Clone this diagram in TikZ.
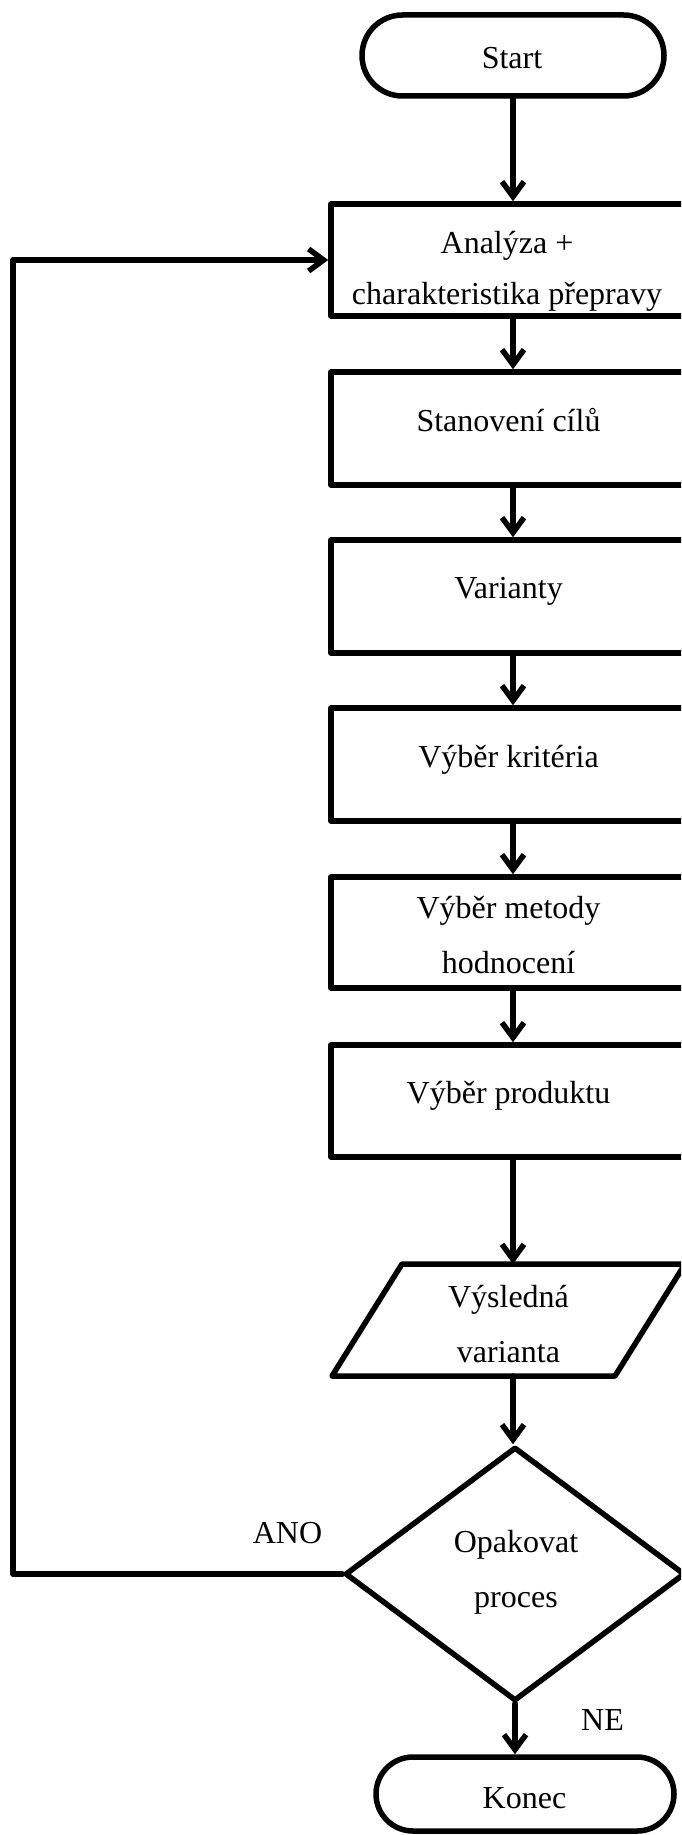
\documentclass[tikz,border=0pt]{standalone}
\usepackage{fontspec}
\setmainfont{Liberation Serif}
\usetikzlibrary{shapes.misc,shapes.geometric,arrows.meta}
\begin{document}
\begin{tikzpicture}[x=1pt,y=-1pt,
  line width=5.5pt,
  every node/.style={inner sep=0pt},
  box/.style={draw, rectangle, minimum width=364pt, minimum height=112pt, line join=round},
  term/.style={draw, rounded rectangle, line join=round},
  txt/.style={font=\fontsize{32}{32}\selectfont, anchor=base, outer sep=0pt},
  arr/.style={-{Straight Barb[length=15pt,width=22pt]}, line cap=round, line join=round},
]
\useasboundingbox (0,0) rectangle (681,1835);
\clip (0,0) rectangle (681,1835);

% shapes
\node[term, minimum width=302pt, minimum height=81pt] (start) at (513,55.5) {};
\node[box] (b1) at (513,260) {};
\node[box, minimum height=113pt] (b2) at (513,428.5) {};
\node[box, minimum height=113pt] (b3) at (513,596.5) {};
\node[box, minimum height=113pt] (b4) at (513,764.5) {};
\node[box, minimum height=111pt] (b5) at (513,932.5) {};
\node[box] (b6) at (513,1101) {};
\node[rectangle, minimum width=283pt, minimum height=112pt, outer sep=0pt] (par) at (508.5,1320) {};
\draw[line join=round] ([xshift=35pt]par.north west) -- ([xshift=35pt]par.north east)
  -- ([xshift=-35pt]par.south east) -- ([xshift=-35pt]par.south west) -- cycle;
\node[draw, diamond, minimum width=340pt, minimum height=254pt, line join=round] (dia) at (515,1574) {};
\node[term, minimum width=298pt, minimum height=74pt] (kon) at (525,1794) {};

% texts
\node[txt] (tstart) at (512,69) {Start};
\node[txt] (t1a) at (507,254) {Analýza +};
\node[txt] (t1b) at (507,304) {charakteristika přepravy};
\node[txt] (t2) at (508.5,431) {Stanovení cílů};
\node[txt] (t3) at (508.5,598) {Varianty};
\node[txt] (t4) at (508.5,767) {Výběr kritéria};
\node[txt] (t5a) at (508.5,918) {Výběr metody};
\node[txt] (t5b) at (508.5,973) {hodnocení};
\node[txt] (t6) at (508.5,1103) {Výběr produktu};
\node[txt] (t7a) at (508.5,1307) {Výsledná};
\node[txt] (t7b) at (508.5,1362) {varianta};
\node[txt] (t8a) at (516,1552) {Opakovat};
\node[txt] (t8b) at (516,1607) {proces};
\node[txt] (tano) at (287.5,1543) {ANO};
\node[txt] (tne) at (602.5,1730) {NE};
\node[txt] (tkon) at (524.5,1808) {Konec};

% connectors
\draw[arr] (start.south) -- (b1.north);
\draw[arr] (b1.south) -- (b2.north);
\draw[arr] (b2.south) -- (b3.north);
\draw[arr] (b3.south) -- (b4.north);
\draw[arr] (b4.south) -- (b5.north);
\draw[arr] (b5.south) -- (b6.north);
\draw[arr] (b6.south) -- (b6.south |- par.north);
\draw[arr] (b6.south |- par.south) -- (b6.south |- dia.north);
\coordinate (lx) at (13,0);
\draw[arr] (dia.west) -| (lx |- b1.west) -- (b1.west);
\draw[arr] (dia.south) -- (dia.south |- kon.north);
\end{tikzpicture}
\end{document}
